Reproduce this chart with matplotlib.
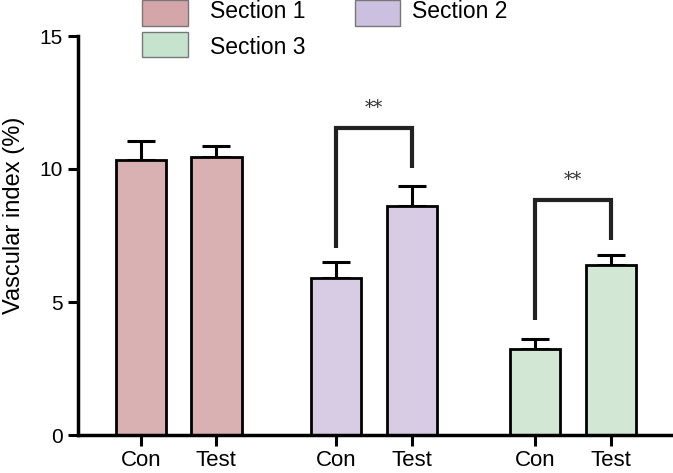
import matplotlib
matplotlib.use("Agg")
import matplotlib.pyplot as plt
from matplotlib.patches import Rectangle

sections = ["Section 1", "Section 2", "Section 3"]
groups = ["Con", "Test"]
con_vals = [10.34, 5.92, 3.25]
test_vals = [10.45, 8.60, 6.40]
con_err = [0.72, 0.58, 0.37]
test_err = [0.42, 0.76, 0.36]
stars = [None, "**", "**"]
bracket_top = [None, 11.55, 8.85]
bracket_left_bottom = [None, 7.03, 4.32]
bracket_right_bottom = [None, 10.04, 7.33]

bar_colors = ["#d9b1b3", "#d8cce4", "#d2e8d4"]
legend_colors = ["#d4a6aa", "#cbc0df", "#c6e4cd"]

plt.rcParams['font.family'] = ['Liberation Sans', 'DejaVu Sans']

fig = plt.figure(figsize=(6.73, 4.73), dpi=100)
W, H = 673, 473
ax = fig.add_axes([78 / W, (H - 435) / H, (673 - 78) / W, (435 - 36) / H])

unit = 74.0
group_start = [0.85, 3.49, 6.18]
within = 1.02
width = 0.68

lw_edge = 2.0
for i in range(3):
    xc = group_start[i]
    xt = xc + within
    ax.bar([xc, xt], [con_vals[i], test_vals[i]], width=width,
           color=bar_colors[i], edgecolor="black", linewidth=lw_edge, zorder=2)
    ax.errorbar([xc, xt], [con_vals[i], test_vals[i]],
                yerr=[[0, 0], [con_err[i], test_err[i]]], fmt="none",
                ecolor="black", elinewidth=2.2, capsize=10, capthick=2.2, zorder=1)
    if stars[i]:
        ax.plot([xc, xc, xt, xt],
                [bracket_left_bottom[i], bracket_top[i], bracket_top[i], bracket_right_bottom[i]],
                color="#222222", linewidth=3.0, solid_capstyle="butt", solid_joinstyle="miter", zorder=3)
        ax.text((xc + xt) / 2, bracket_top[i] + 0.4, stars[i], ha="center", va="bottom",
                fontsize=13, family=["DejaVu Serif"], color="#333333")

ax.set_xlim(0, (673 - 78) / unit)
ax.set_ylim(0, 15)
ax.set_yticks([0, 5, 10, 15])
ax.set_yticklabels(["0", "5", "10", "15"], fontsize=15)
xt_pos = []
xt_lab = []
for i in range(3):
    xt_pos += [group_start[i], group_start[i] + within]
    xt_lab += groups
ax.set_xticks(xt_pos)
ax.set_xticklabels(xt_lab, fontsize=16)
ax.tick_params(axis="y", length=7, width=2.2, pad=4)
ax.tick_params(axis="x", length=8, width=2.2, pad=3)
for s in ["top", "right"]:
    ax.spines[s].set_visible(False)
for s in ["left", "bottom"]:
    ax.spines[s].set_linewidth(2.5)
ax.set_ylabel("Vascular index (%)", fontsize=17, va="center")
ax.yaxis.set_label_coords((14 - 78) / 595, (435 - 215) / 399)

# legend (manual)
leg = [(142, 0, 188, 26, 0, 210, 11), (355, 0, 400, 26, 1, 412, 11), (142, 32, 188, 57, 2, 210, 48)]
for x0, y0, x1, y1, k, tx, ty in leg:
    fig.patches.append(Rectangle((x0 / W, 1 - y1 / H), (x1 - x0) / W, (y1 - y0) / H,
                                 transform=fig.transFigure, facecolor=legend_colors[k],
                                 edgecolor="#777777", linewidth=1.0))
    fig.text(tx / W, 1 - ty / H, sections[k], fontsize=16.5, va="center", ha="left")

fig.savefig("out.png", dpi=100)
